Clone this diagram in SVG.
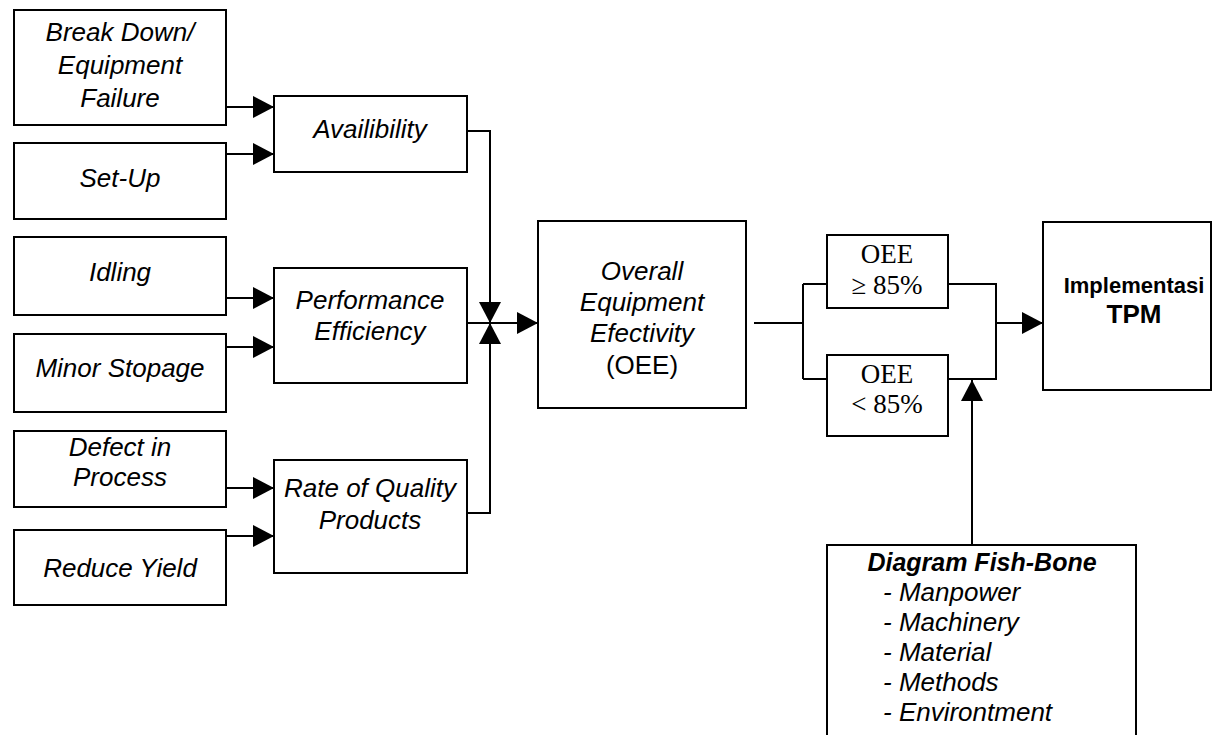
<svg xmlns="http://www.w3.org/2000/svg" width="1214" height="735" viewBox="0 0 1214 735">
<style>
.box{fill:#fff;stroke:#000;stroke-width:2}
.t{font-family:"Liberation Sans",Arial,sans-serif;font-size:26px;font-style:italic;text-anchor:middle;fill:#000}
.n{font-style:normal}
.s{font-family:"Liberation Serif","Times New Roman",serif;font-size:27px;text-anchor:middle;fill:#000}
.b{font-family:"Liberation Sans",Arial,sans-serif;font-weight:bold;text-anchor:middle;fill:#000}
.fi{font-family:"Liberation Sans",Arial,sans-serif;font-size:26px;font-style:italic;fill:#000}
.c{fill:none;stroke:#000;stroke-width:2}
.a{marker-end:url(#ah)}
</style>
<defs>
<marker id="ah" markerUnits="userSpaceOnUse" markerWidth="21" markerHeight="22" refX="21" refY="11" orient="auto"><path d="M0,0 L21,11 L0,22 z" fill="#000"/></marker>
</defs>
<rect width="1214" height="735" fill="#fff"/>
<g id="connectors">
<path class="c a" d="M226,107 H274"/>
<path class="c a" d="M226,154 H274"/>
<path class="c a" d="M226,298 H274"/>
<path class="c a" d="M226,347 H274"/>
<path class="c a" d="M226,488 H274"/>
<path class="c a" d="M226,536 H274"/>
<path class="c a" d="M467,131 H490 V323"/>
<path class="c a" d="M467,513 H490 V323"/>
<path class="c a" d="M467,323 H538"/>
<path class="c" d="M754,323 H803 M803,284 V379 M803,284 H827 M803,379 H827"/>
<path class="c" d="M948,284 H996 V379 H948"/>
<path class="c a" d="M996,323 H1043"/>
<path class="c a" d="M972,545 V380"/>
</g>
<g id="n_breakdown"><rect class="box" x="14" y="10" width="212" height="115"/>
<text class="t" x="120" y="41">Break Down/</text><text class="t" x="120" y="74">Equipment</text><text class="t" x="120" y="107">Failure</text></g>
<g id="n_setup"><rect class="box" x="14" y="143" width="212" height="76"/><text class="t" x="120" y="187">Set-Up</text></g>
<g id="n_idling"><rect class="box" x="14" y="237" width="212" height="78"/><text class="t" x="120" y="281">Idling</text></g>
<g id="n_minor"><rect class="box" x="14" y="334" width="212" height="78"/><text class="t" x="120" y="377">Minor Stopage</text></g>
<g id="n_defect"><rect class="box" x="14" y="431" width="212" height="76"/><text class="t" x="120" y="456">Defect in</text><text class="t" x="120" y="486">Process</text></g>
<g id="n_reduce"><rect class="box" x="14" y="530" width="212" height="75"/><text class="t" x="120" y="577">Reduce Yield</text></g>
<g id="n_avail"><rect class="box" x="274" y="96" width="193" height="76"/><text class="t" x="370" y="138">Availibility</text></g>
<g id="n_perf"><rect class="box" x="274" y="268" width="193" height="115"/><text class="t" x="370" y="309">Performance</text><text class="t" x="370" y="340">Efficiency</text></g>
<g id="n_rate"><rect class="box" x="274" y="460" width="193" height="113"/><text class="t" x="370" y="497">Rate of Quality</text><text class="t" x="370" y="529">Products</text></g>
<g id="n_oee"><rect class="box" x="538" y="221" width="208" height="187"/>
<text class="t" x="642" y="280">Overall</text><text class="t" x="642" y="311">Equipment</text><text class="t" x="642" y="342">Efectivity</text><text class="t n" x="642" y="374">(OEE)</text></g>
<g id="n_ge85"><rect class="box" x="827" y="235" width="121" height="73"/><text class="s" x="887" y="263">OEE</text><text class="s" x="887" y="294">≥ 85%</text></g>
<g id="n_lt85"><rect class="box" x="827" y="355" width="121" height="81"/><text class="s" x="887" y="383">OEE</text><text class="s" x="887" y="413">&lt; 85%</text></g>
<g id="n_tpm"><rect class="box" x="1043" y="222" width="168" height="168"/><text class="b" x="1134" y="293" font-size="22">Implementasi</text><text class="b" x="1134" y="323" font-size="26">TPM</text></g>
<g id="n_fish"><rect class="box" x="827" y="545" width="309" height="200"/>
<text class="b" x="982" y="571" font-size="25" font-style="italic">Diagram Fish-Bone</text>
<text class="fi" x="883" y="601">- Manpower</text>
<text class="fi" x="883" y="631">- Machinery</text>
<text class="fi" x="883" y="661">- Material</text>
<text class="fi" x="883" y="691">- Methods</text>
<text class="fi" x="883" y="721">- Environtment</text></g>
</svg>
